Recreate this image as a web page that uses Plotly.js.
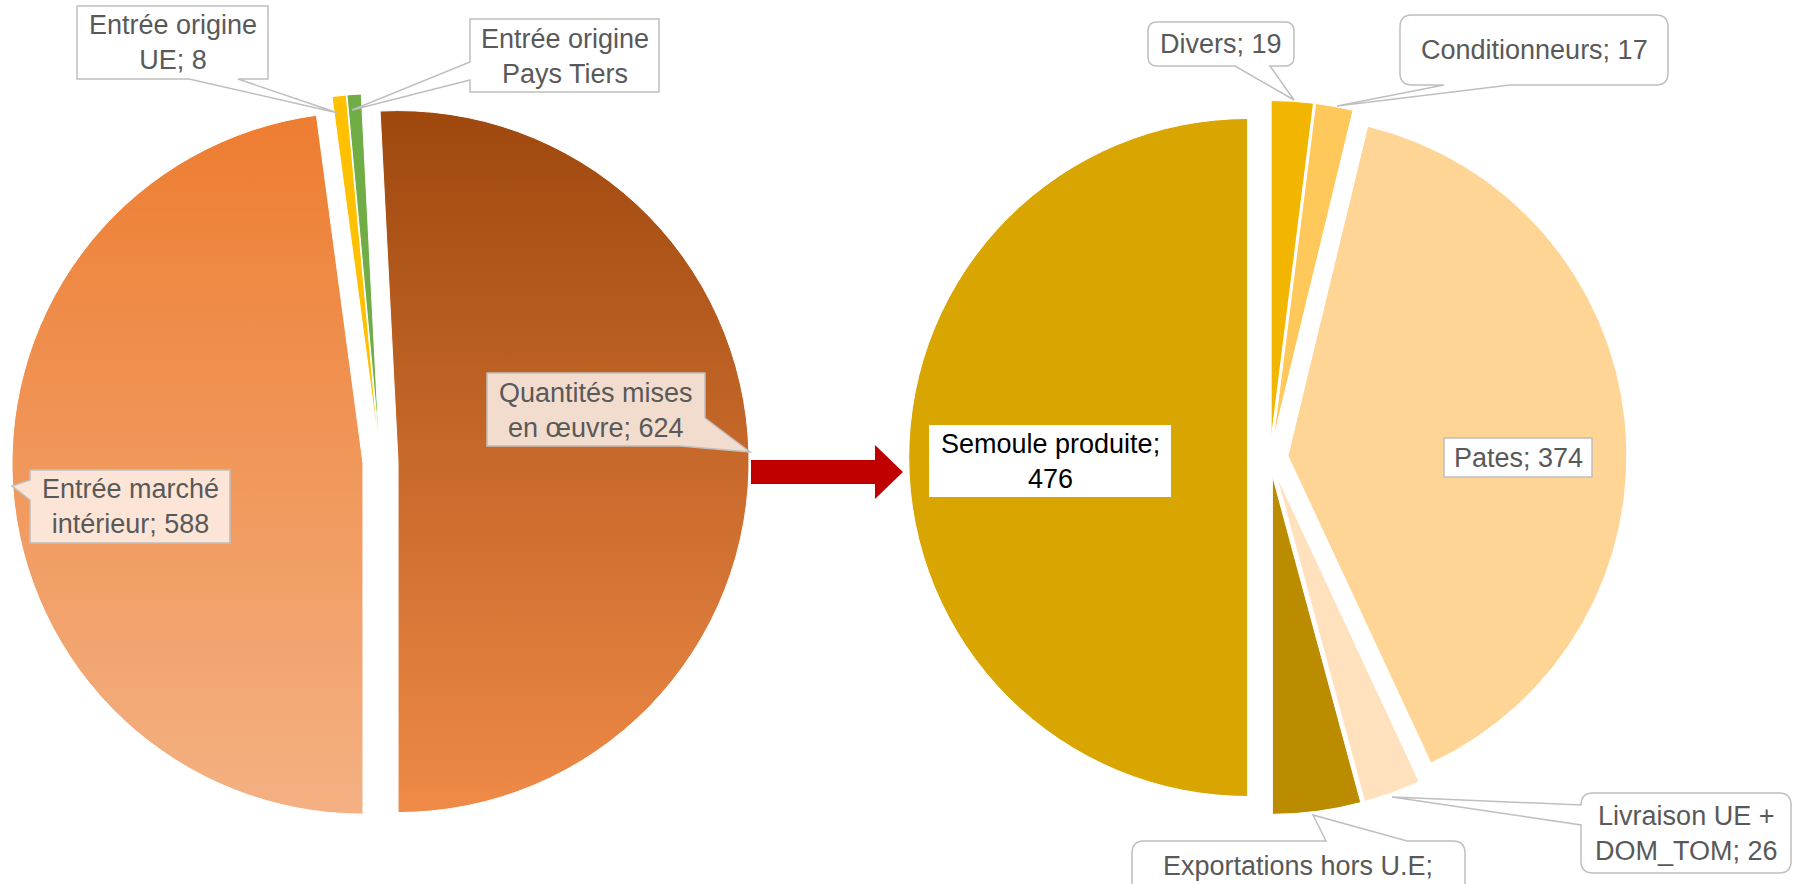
<!DOCTYPE html>
<html><head><meta charset="utf-8">
<script src="https://cdn.plot.ly/plotly-3.0.1.min.js"></script>
<style>html,body{margin:0;padding:0;background:#fff;overflow:hidden}</style>
</head><body><div id="chart" style="width:1798px;height:884px"></div>
<script>
// ---- data ----
const leftLabels = ["Entrée marché intérieur", "Entrée origine UE", "Entrée origine Pays Tiers", "Quantités mises en œuvre"];
const leftValues = [588, 8, 8, 624];
const leftPull = [0.05, 0.05, 0.05, 0.05];
const leftColors = ["#F0995E", "#FFC000", "#70AD47", "#C8692C"];

const rightLabels = ["Divers", "Conditionneurs", "Pates", "Livraison UE + DOM_TOM", "Exportations hors U.E", "Semoule produite"];
const rightValues = [19, 17, 374, 26, 40, 476];
const rightPull = [0.053, 0.053, 0.053, 0.053, 0.053, 0.066];
const rightColors = ["#F3B600", "#FFC85A", "#FFD596", "#FFE2BD", "#BB8C00", "#D9A500"];

// label texts (as shown on the chart)
const leftLabelText = [
  "Entrée marché<br>intérieur; " + leftValues[0],
  "Entrée origine<br>UE; " + leftValues[1],
  "Entrée origine<br>Pays Tiers",
  "Quantités mises<br>en œuvre; " + leftValues[3]
];
const rightLabelText = [
  "Divers; " + rightValues[0],
  "Conditionneurs; " + rightValues[1],
  "Pates; " + rightValues[2],
  "Livraison UE +<br>DOM_TOM; " + rightValues[3],
  "Exportations hors U.E;",
  "Semoule produite;<br>" + rightValues[5]
];

// ---- layout helpers (pixel geometry) ----
const W = 1798, H = 884;
const FONT = "Liberation Sans, Arial, sans-serif";
function domainFor(cx, cy, r, maxPull) {
  const half = r * (1 + maxPull);
  return { x: [(cx - half) / W, (cx + half) / W], y: [1 - (cy + half) / H, 1 - (cy - half) / H] };
}
const P = (x, y) => (x / W).toFixed(5) + "," + (1 - y / H).toFixed(5);
function callout(b, r, side, a1, a2, tip) {
  const [x0, y0, x1, y1] = b;
  const T = tip ? " L" + P(tip[0], tip[1]) : "";
  let d = "M" + P(x0 + r, y0);
  if (side === "top") d += " L" + P(a1, y0) + T + " L" + P(a2, y0);
  d += " L" + P(x1 - r, y0);
  if (r) d += " Q" + P(x1, y0) + " " + P(x1, y0 + r);
  if (side === "right") d += " L" + P(x1, a1) + T + " L" + P(x1, a2);
  if (side === "corner") {
    d += " L" + P(x1, a1) + T + " L" + P(a2, y1);
  } else {
    d += " L" + P(x1, y1 - r);
    if (r) d += " Q" + P(x1, y1) + " " + P(x1 - r, y1);
  }
  if (side === "bottom") d += " L" + P(a1, y1) + T + " L" + P(a2, y1);
  d += " L" + P(x0 + r, y1);
  if (r) d += " Q" + P(x0, y1) + " " + P(x0, y1 - r);
  if (side === "left") d += " L" + P(x0, a1) + T + " L" + P(x0, a2);
  d += " L" + P(x0, y0 + r);
  if (r) d += " Q" + P(x0, y0) + " " + P(x0 + r, y0);
  return d + " Z";
}

const data = [
  {
    type: "pie", labels: leftLabels, values: leftValues, sort: false,
    direction: "clockwise", rotation: 180, pull: leftPull,
    marker: { colors: leftColors, line: { color: "#FFFFFF", width: 1 } },
    textinfo: "none", hoverinfo: "none",
    domain: domainFor(380.5, 462, 351, Math.max(...leftPull))
  },
  {
    type: "pie", labels: rightLabels, values: rightValues, sort: false,
    direction: "clockwise", rotation: 0, pull: rightPull,
    marker: { colors: rightColors, line: { color: "#FFFFFF", width: 1 } },
    textinfo: "none", hoverinfo: "none",
    domain: domainFor(1270, 457.5, 339, Math.max(...rightPull))
  }
];

const GREY = "#BFBFBF";
// callout boxes: [box, radius, side, a1, a2, tip, fill, text, textX, textY, textColor, lineColor]
const boxes = [
  [[77, 6, 268, 79], 0, "bottom", 238, 189, [338, 113], "#FFFFFF", leftLabelText[1], 173, 42],
  [[470, 19, 659, 92], 0, "left", 80, 62, [352, 110], "#FFFFFF", leftLabelText[2], 565, 56],
  [[487, 373, 705, 446], 0, "corner", 418, 680, [750, 452], "#F2DCCE", leftLabelText[3], 596, 410],
  [[30, 470, 230, 543], 0, "left", 500, 480, [12, 486], "#FCE5D6", leftLabelText[0], 130, 507],
  [[929, 425, 1171, 497], 0, "none", 0, 0, null, "#FFFFFF", rightLabelText[5], 1050, 461, "#000000", "rgba(0,0,0,0)"],
  [[1444, 438, 1592, 477], 0, "none", 0, 0, null, "#FFFFFF", rightLabelText[2], 1518, 458],
  [[1148, 22, 1294, 66], 9, "bottom", 1270, 1235, [1294, 100], "#FFFFFF", rightLabelText[0], 1221, 44],
  [[1400, 15, 1668, 85], 12, "bottom", 1510, 1444, [1337, 106], "#FFFFFF", rightLabelText[1], 1534, 50],
  [[1581, 793, 1791, 873], 12, "left", 825, 805, [1392, 797], "#FFFFFF", rightLabelText[3], 1686, 833],
  [[1132, 841, 1465, 905], 12, "top", 1326, 1407, [1313, 815], "#FFFFFF", rightLabelText[4], 1298, 866]
];

const shapes = boxes.map(b => ({
  type: "path", xref: "paper", yref: "paper", layer: "above",
  path: callout(b[0], b[1], b[2], b[3], b[4], b[5]),
  fillcolor: b[6], line: { color: b[11] || GREY, width: 1.5 }
}));
// red arrow between the pies
shapes.push({
  type: "path", xref: "paper", yref: "paper", layer: "above",
  path: "M" + P(751, 460) + " L" + P(875, 460) + " L" + P(875, 445) + " L" + P(903, 472) +
        " L" + P(875, 499) + " L" + P(875, 484) + " L" + P(751, 484) + " Z",
  fillcolor: "#C00000", line: { width: 0 }
});

const annotations = boxes.map(b => ({
  xref: "paper", yref: "paper", x: b[8] / W, y: 1 - b[9] / H,
  xanchor: "center", yanchor: "middle", showarrow: false, align: "center",
  text: b[7], font: { family: FONT, size: 27, color: b[10] || "#595959" }
}));

const layout = {
  width: W, height: H, margin: { l: 0, r: 0, t: 0, b: 0 },
  paper_bgcolor: "#FFFFFF", plot_bgcolor: "#FFFFFF",
  showlegend: false, font: { family: FONT },
  shapes: shapes, annotations: annotations
};

Plotly.newPlot("chart", data, layout, { staticPlot: true, displayModeBar: false }).then(gd => {
  const ns = "http://www.w3.org/2000/svg";
  const svg = gd.querySelector(".main-svg");
  const defs = document.createElementNS(ns, "defs");
  function grad(id, c0, c1) {
    const g = document.createElementNS(ns, "linearGradient");
    g.setAttribute("id", id);
    g.setAttribute("x1", "0"); g.setAttribute("y1", "0");
    g.setAttribute("x2", "0"); g.setAttribute("y2", "1");
    [[0, c0], [1, c1]].forEach(([o, c]) => {
      const s = document.createElementNS(ns, "stop");
      s.setAttribute("offset", o); s.setAttribute("stop-color", c);
      g.appendChild(s);
    });
    defs.appendChild(g);
  }
  grad("gMarche", "#ED7D31", "#F4B183");
  grad("gQMO", "#9E480E", "#EF8A47");
  svg.insertBefore(defs, svg.firstChild);
  const traces = gd.querySelectorAll(".pielayer .trace");
  if (traces.length) {
    const sl = traces[0].querySelectorAll("g.slice path.surface");
    if (sl[0]) sl[0].style.fill = "url(#gMarche)";
    if (sl[3]) sl[3].style.fill = "url(#gQMO)";
  }
});
</script>
</body></html>
